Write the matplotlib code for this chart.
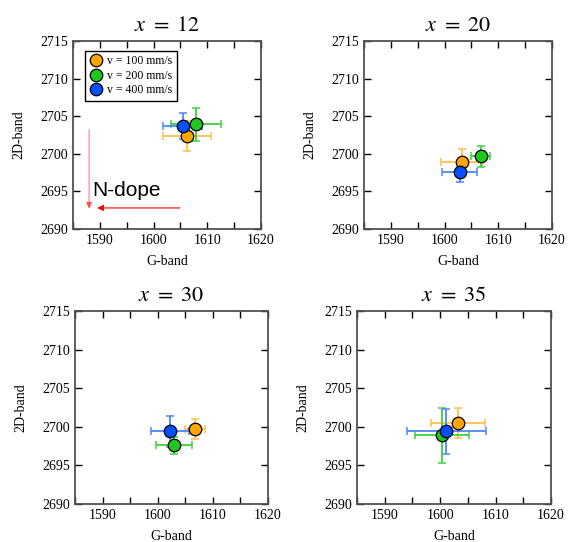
import numpy as np
import matplotlib
matplotlib.use("Agg")
import matplotlib.pyplot as plt
from matplotlib.ticker import MultipleLocator

plt.rcParams['font.family'] = ['Liberation Serif', 'DejaVu Serif']
plt.rcParams['mathtext.fontset'] = 'stix'

titles = [r'$x\ =\ 12$', r'$x\ =\ 20$', r'$x\ =\ 30$', r'$x\ =\ 35$']
labels = ['v = 100 mm/s', 'v = 200 mm/s', 'v = 400 mm/s']
colors = ['#FFA500', '#1EC81E', '#0050FF']
err_colors = ['#FFC04D', '#3CD23C', '#4D85FF']

# per panel: [100, 200, 400] mm/s
g_band = [[1606.2, 1607.9, 1605.4],
          [1603.3, 1606.7, 1602.8],
          [1606.7, 1603.0, 1602.2],
          [1603.2, 1600.3, 1601.1]]
g_err = [[4.5, 4.7, 3.6],
         [3.9, 1.8, 3.2],
         [1.8, 3.3, 3.5],
         [4.9, 4.9, 7.1]]
d_band = [[2702.4, 2703.9, 2703.7],
          [2698.9, 2699.7, 2697.6],
          [2699.7, 2697.6, 2699.4],
          [2700.5, 2698.9, 2699.4]]
d_err = [[2.0, 2.2, 1.7],
         [1.8, 1.4, 1.3],
         [1.3, 1.1, 2.0],
         [2.0, 3.6, 2.9]]

positions = [[0.1285, 0.5775, 0.331, 0.3469],
             [0.6408, 0.5775, 0.331, 0.3469],
             [0.132, 0.0701, 0.3398, 0.3561],
             [0.6285, 0.0701, 0.3415, 0.3561]]

fig = plt.figure(figsize=(5.68, 5.42), dpi=100)

for p in range(4):
    ax = fig.add_axes(positions[p])
    for i in range(3):
        ax.errorbar(g_band[p][i], d_band[p][i], xerr=g_err[p][i], yerr=d_err[p][i],
                    fmt='none', ecolor=err_colors[i], elinewidth=1.3, capsize=3, capthick=1.1)
    for i in range(3):
        ax.plot(g_band[p][i], d_band[p][i], 'o', color=colors[i], markeredgecolor='black',
                markeredgewidth=0.9, markersize=9, label=labels[i])
    ax.set_xlim(1585, 1620)
    ax.set_ylim(2690, 2715)
    ax.xaxis.set_major_locator(MultipleLocator(10))
    ax.xaxis.set_minor_locator(MultipleLocator(5))
    ax.yaxis.set_major_locator(MultipleLocator(5))
    ax.tick_params(which='both', direction='in', top=True, right=True, labelsize=10,
                   length=5, width=1, color='black')
    for s in ax.spines.values():
        s.set_linewidth(1.3)
        s.set_color('#505050')
    ax.set_xlabel('G-band', fontsize=10, labelpad=6)
    ax.set_ylabel('2D-band', fontsize=10, labelpad=11)
    ax.set_title(titles[p], fontsize=16, pad=7)

    if p == 0:
        ax.legend(loc='upper left', fontsize=8.5, frameon=True, fancybox=False,
                  edgecolor='black', framealpha=1, handletextpad=0.3,
                  borderpad=0.4, labelspacing=0.2, handlelength=1.2,
                  bbox_to_anchor=(0.03, 0.98)).get_frame().set_linewidth(1.0)
        ax.annotate('', xy=(1588.0, 2692.7), xytext=(1588.0, 2703.2),
                    arrowprops=dict(arrowstyle='-|>', color='red', lw=0.8, alpha=0.5,
                                    mutation_scale=9, shrinkA=0, shrinkB=0))
        ax.annotate('', xy=(1589.5, 2692.8), xytext=(1604.9, 2692.8),
                    arrowprops=dict(arrowstyle='-|>', color='red', lw=0.8,
                                    mutation_scale=9, shrinkA=0, shrinkB=0))
        ax.text(1588.6, 2695.1, 'N-dope', fontsize=15, family='Liberation Sans',
                va='center', ha='left')

fig.savefig('out.png', dpi=100)
